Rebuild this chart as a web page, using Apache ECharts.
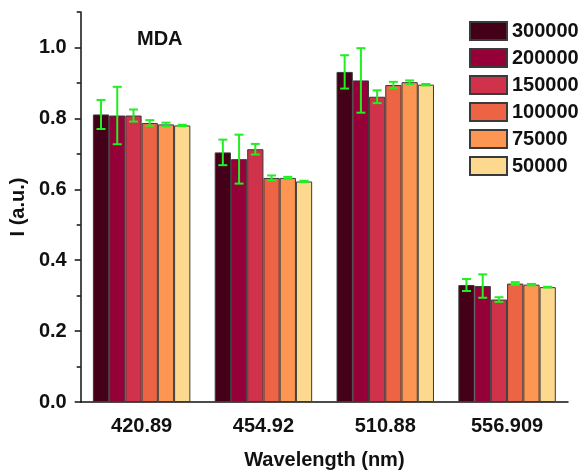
<!DOCTYPE html>
<html>
<head>
<meta charset="utf-8">
<script src="https://cdn.jsdelivr.net/npm/echarts@6/dist/echarts.min.js"></script>
<style>html,body{margin:0;padding:0;background:#fff;overflow:hidden}#c{width:580px;height:475px}</style>
</head>
<body>
<div id="c"></div>
<script>
var categories = ['420.89', '454.92', '510.88', '556.909'];
var seriesNames = ['300000', '200000', '150000', '100000', '75000', '50000'];
var v300000 = [0.811, 0.704, 0.931, 0.330];
var v200000 = [0.808, 0.685, 0.907, 0.327];
var v150000 = [0.808, 0.713, 0.861, 0.289];
var v100000 = [0.787, 0.632, 0.894, 0.334];
var v75000  = [0.783, 0.632, 0.902, 0.331];
var v50000  = [0.780, 0.622, 0.895, 0.324];
var e300000 = [0.041, 0.036, 0.047, 0.017];
var e200000 = [0.081, 0.069, 0.091, 0.033];
var e150000 = [0.017, 0.015, 0.018, 0.0065];
var e100000 = [0.008, 0.007, 0.009, 0.004];
var e75000  = [0.005, 0.003, 0.005, 0.002];
var e50000  = [0.002, 0.002, 0.002, 0.001];
var yTickLabels = ['0.0', '0.2', '0.4', '0.6', '0.8', '1.0'];

var values = [v300000, v200000, v150000, v100000, v75000, v50000];
var errors = [e300000, e200000, e150000, e100000, e75000, e50000];
var colors = ['#430018', '#960039', '#cf324a', '#ec6443', '#fc9652', '#fdd98f'];
var FONT = "'Liberation Sans', Arial, sans-serif";
var FS = 20;
var NS = seriesNames.length;
var CAT_GAP = 0.2;

var series = [];
seriesNames.forEach(function (n, i) {
  series.push({
    name: n, type: 'bar', data: values[i],
    barGap: '0%', barCategoryGap: (CAT_GAP * 100) + '%',
    itemStyle: { color: colors[i], borderColor: '#3a3a3a', borderWidth: 1 },
    emphasis: { disabled: true }, z: 2
  });
});
var errData = [];
values.forEach(function (arr, s) {
  arr.forEach(function (v, c) { errData.push([c, v, errors[s][c], s]); });
});
series.push({
  type: 'custom', data: errData, z: 5, silent: true,
  encode: { x: 0, y: 1 },
  renderItem: function (params, api) {
    var c = api.value(0), v = api.value(1), e = api.value(2), s = api.value(3);
    var center = api.coord([c, v]);
    var band = api.size([1, 0])[0];
    var bw = band * (1 - CAT_GAP) / NS;
    var x = center[0] - band * (1 - CAT_GAP) / 2 + (s + 0.5) * bw;
    var yt = api.coord([c, v + e])[1];
    var yb = api.coord([c, v - e])[1];
    var cap = 4.5;
    var st = { stroke: '#22ee22', lineWidth: 2, fill: null };
    return { type: 'group', children: [
      { type: 'line', shape: { x1: x, y1: yt, x2: x, y2: yb }, style: st },
      { type: 'line', shape: { x1: x - cap, y1: yt, x2: x + cap, y2: yt }, style: st },
      { type: 'line', shape: { x1: x - cap, y1: yb, x2: x + cap, y2: yb }, style: st }
    ]};
  }
});

var chart = echarts.init(document.getElementById('c'), null, { renderer: 'canvas' });
chart.setOption({
  animation: false,
  backgroundColor: '#fff',
  textStyle: { fontFamily: FONT },
  title: {
    text: 'MDA', left: 137, top: 29, padding: 0,
    textStyle: { fontFamily: FONT, fontSize: FS, fontWeight: 'bold', color: '#111' }
  },
  legend: {
    data: seriesNames, orient: 'vertical', left: 469, top: 21, padding: 0,
    icon: 'rect', itemWidth: 37, itemHeight: 18, itemGap: 7,
    textStyle: { fontFamily: FONT, fontSize: FS, fontWeight: 'bold', color: '#111' }
  },
  grid: { left: 78, right: 12, top: 12, bottom: 68, containLabel: false },
  xAxis: [{
    type: 'category', data: categories,
    name: 'Wavelength (nm)', nameLocation: 'middle', nameGap: 48,
    nameTextStyle: { fontFamily: FONT, fontSize: FS, fontWeight: 'bold', color: '#111' },
    axisLine: { lineStyle: { color: '#111', width: 1.5 } },
    axisTick: { alignWithLabel: true, length: 6, lineStyle: { color: '#111', width: 1.5 } },
    axisLabel: { margin: 14, fontFamily: FONT, fontSize: FS, fontWeight: 'bold', color: '#111' }
  }, {
    type: 'category', data: categories, position: 'bottom',
    axisLine: { show: false },
    axisTick: { length: 4, lineStyle: { color: '#111', width: 1.5 } },
    axisLabel: { show: false }
  }],
  yAxis: [{
    type: 'value', min: 0, max: 1.1, interval: 0.2,
    name: 'I (a.u.)', nameLocation: 'middle', nameGap: 44, nameRotate: 90,
    nameTextStyle: { fontFamily: FONT, fontSize: FS, fontWeight: 'bold', color: '#111' },
    axisLine: { show: true, lineStyle: { color: '#111', width: 1.5 } },
    axisTick: { show: true, length: 6, lineStyle: { color: '#111', width: 1.5 } },
    splitLine: { show: false },
    axisLabel: {
      margin: 14, showMaxLabel: false, fontFamily: FONT, fontSize: FS, fontWeight: 'bold', color: '#111',
      formatter: function (v) { var i = Math.round(v / 0.2); return yTickLabels[i] || ''; }
    }
  }, {
    type: 'value', min: 0, max: 1.1, interval: 0.1, position: 'left',
    axisLine: { show: false },
    axisTick: { show: true, length: 4, lineStyle: { color: '#111', width: 1.5 } },
    splitLine: { show: false }, axisLabel: { show: false }
  }],
  series: series
});
</script>
</body>
</html>
